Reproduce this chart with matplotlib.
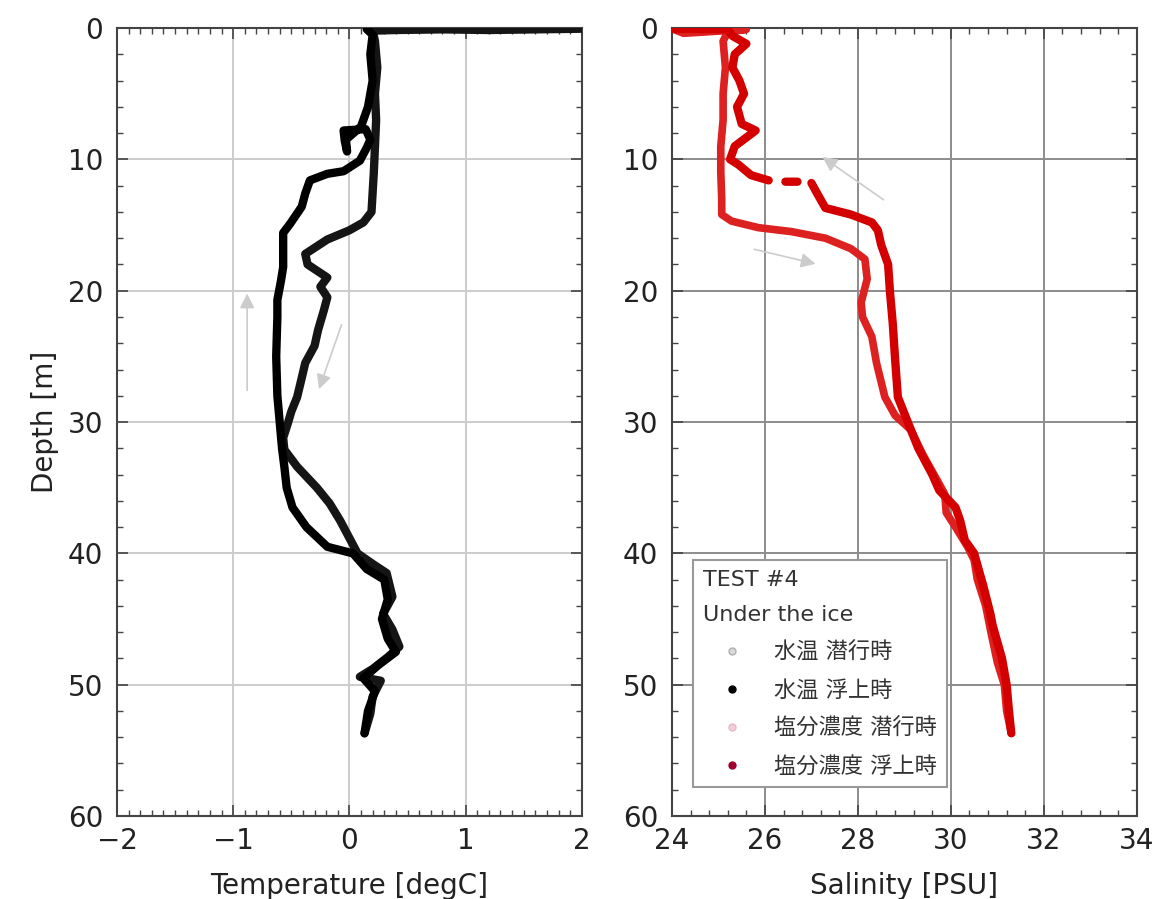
import matplotlib
matplotlib.use("Agg")
import matplotlib.pyplot as plt
from matplotlib.lines import Line2D
from matplotlib.ticker import MultipleLocator
import numpy as np

plt.rcParams["font.family"] = ["DejaVu Sans", "Noto Sans CJK JP"]

# temperature, descent (潜行時): depth [m], temperature [degC]
temp_down_depth = [0.05, 0.1, 0.15, 0.1, 0.15, 0.2, 1, 3, 5, 7, 9, 11, 12.5, 14.0,
                   14.8, 15.4, 16.1, 17.2, 18.0, 19.0, 19.7, 20.5, 21.5, 23, 24.2,
                   25.5, 27, 28.1, 29.2, 30.1, 31.2, 32.1, 33.4, 35, 36.2, 37.5,
                   38.5, 40, 40.8, 41.5, 43.3, 44.6, 45.8, 47.1, 47.9, 48.8, 49.4,
                   49.7, 50.9, 52.2, 53.7]
temp_down_val = [2.0, 1.6, 1.2, 0.8, 0.4, 0.2, 0.22, 0.24, 0.22, 0.23, 0.22, 0.21,
                 0.2, 0.19, 0.12, 0.0, -0.19, -0.38, -0.36, -0.19, -0.25, -0.19,
                 -0.22, -0.27, -0.3, -0.38, -0.42, -0.45, -0.5, -0.53, -0.57,
                 -0.56, -0.45, -0.28, -0.17, -0.08, -0.02, 0.07, 0.2, 0.32, 0.37,
                 0.29, 0.37, 0.43, 0.33, 0.2, 0.09, 0.27, 0.2, 0.18, 0.13]

# temperature, ascent (浮上時)
temp_up_depth = [53.7, 52, 50.5, 49.5, 48.5, 47.5, 46.5, 45, 43.5, 42, 41.2, 40,
                 39.5, 38, 36.5, 35, 33.4, 32, 30, 28, 25, 22, 20.7, 19.3, 18.2,
                 15.6, 14.9, 13.6, 12.6, 11.6, 11.1, 10.9, 10.1, 9.1, 8.5, 7.7,
                 7.8, 8.6, 9.4, 8.5, 7.5, 6, 4, 2, 0.5, 0.1]
temp_up_val = [0.13, 0.16, 0.22, 0.12, 0.25, 0.4, 0.33, 0.28, 0.33, 0.3, 0.15,
               0.03, -0.19, -0.37, -0.49, -0.54, -0.56, -0.58, -0.6, -0.62,
               -0.63, -0.62, -0.62, -0.59, -0.57, -0.57, -0.51, -0.41, -0.38,
               -0.34, -0.19, -0.05, 0.09, 0.15, 0.18, 0.14, -0.05, -0.04, -0.02,
               -0.03, 0.1, 0.16, 0.2, 0.18, 0.2, 0.15]

# salinity, descent (潜行時): depth [m], salinity [PSU]
sal_down_depth = [0.05, 0.4, 0.1, 0.3, 1, 3, 5, 7, 9, 11, 13, 14.2, 14.7, 15.2,
                  15.5, 16.0, 16.8, 17.6, 19.1, 20.9, 22, 23.5, 25.5, 28.1, 29.5,
                  30.6, 32.5, 34.4, 35.5, 36.9, 38, 39.5, 40.5, 42, 44, 45.8,
                  48.3, 50, 52, 53.7]
sal_down_val = [24.0, 24.25, 25.6, 25.2, 25.1, 25.15, 25.1, 25.1, 25.05, 25.05,
                25.07, 25.07, 25.28, 25.86, 26.57, 27.3, 27.85, 28.15, 28.2,
                28.07, 28.1, 28.3, 28.4, 28.58, 28.8, 29.14, 29.4, 29.7, 29.87,
                29.9, 30.1, 30.36, 30.5, 30.57, 30.75, 30.85, 31.0, 31.15, 31.2,
                31.3]

# salinity, ascent (浮上時); nan marks gaps in the record
sal_up_depth = [53.7, 52, 50, 48, 45.5, 44.6, 42.5, 40, 39, 37.5, 36.5, 35.2, 34,
                32, 30.6, 28.1, 25.2, 22.5, 20.1, 18, 16.5, 15.4, 14.8, 14.2,
                13.7, 12.7, 11.8, np.nan, 11.7, 11.7, np.nan, 11.6, 11.2, 10.4,
                10, 9, 7.8, 7.3, 6, 5, 4, 3, 2, 1.2, 0.6, 0.1, 0.05]
sal_up_val = [31.3, 31.25, 31.2, 31.1, 30.9, 30.85, 30.7, 30.5, 30.3, 30.2, 30.1,
              29.75, 29.6, 29.3, 29.14, 28.86, 28.8, 28.75, 28.69, 28.65, 28.5,
              28.43, 28.3, 27.85, 27.3, 27.14, 27.0, np.nan, 26.7, 26.44, np.nan,
              26.08, 25.7, 25.43, 25.25, 25.35, 25.8, 25.5, 25.4, 25.55, 25.45,
              25.3, 25.35, 25.6, 25.3, 25.2, 24.0]

# direction arrows: (x_start, depth_start, x_end, depth_end)
temp_arrows = [(-0.88, 27.8, -0.88, 20.0), (-0.06, 22.4, -0.27, 27.7)]
sal_arrows = [(28.6, 13.2, 27.19, 9.7), (25.71, 16.8, 27.15, 18.0)]

legend_labels = ["水温 潜行時", "水温 浮上時", "塩分濃度 潜行時", "塩分濃度 浮上時"]

fig = plt.figure(figsize=(11.62, 8.99), dpi=100)
ax_t = fig.add_axes([0.1007, 0.0923, 0.400, 0.8765])
ax_s = fig.add_axes([0.5783, 0.0923, 0.400, 0.8765])


def style_axis(ax, grid_color):
    ax.set_ylim(60, 0)
    ax.yaxis.set_major_locator(MultipleLocator(10))
    ax.yaxis.set_minor_locator(MultipleLocator(2))
    ax.grid(True, which="major", color=grid_color, linewidth=1.4, zorder=0)
    ax.set_axisbelow(True)
    ax.tick_params(which="both", direction="in", top=True, right=True,
                   labelsize=20, color="#444444", labelcolor="#222222")
    ax.tick_params(axis="x", which="both", pad=8)
    ax.tick_params(axis="y", which="both", pad=10)
    ax.tick_params(which="major", length=8, width=1.2)
    ax.tick_params(which="minor", length=4, width=1.0)
    for sp in ax.spines.values():
        sp.set_color("#444444")
        sp.set_linewidth(1.5)


style_axis(ax_t, "#cccccc")
ax_t.set_xlim(-2, 2)
ax_t.xaxis.set_major_locator(MultipleLocator(1))
ax_t.xaxis.set_minor_locator(MultipleLocator(0.1))
ax_t.plot(temp_down_val, temp_down_depth, color="#151515", lw=6,
          solid_joinstyle="round", solid_capstyle="round", zorder=3)
ax_t.plot(temp_up_val, temp_up_depth, color="#000000", lw=6,
          solid_joinstyle="round", solid_capstyle="round", zorder=3)
ax_t.set_xlabel("Temperature [degC]", fontsize=20, labelpad=12, color="#222222")
ax_t.set_ylabel("Depth [m]", fontsize=20, labelpad=6, color="#222222")
for x0, y0, x1, y1 in temp_arrows:
    ax_t.annotate("", xy=(x1, y1), xytext=(x0, y0),
                  arrowprops=dict(arrowstyle="-|>", color="#cccccc", lw=1.2,
                                  mutation_scale=22), zorder=2)

style_axis(ax_s, "#8c8c8c")
ax_s.set_xlim(24, 34)
ax_s.xaxis.set_major_locator(MultipleLocator(2))
ax_s.xaxis.set_minor_locator(MultipleLocator(0.4))
ax_s.plot(sal_down_val, sal_down_depth, color="#dd2020", lw=5.5,
          solid_joinstyle="round", solid_capstyle="round", zorder=3)
ax_s.plot(sal_up_val, sal_up_depth, color="#d40000", lw=6,
          solid_joinstyle="round", solid_capstyle="round", zorder=3)
ax_s.set_xlabel("Salinity [PSU]", fontsize=20, labelpad=12, color="#222222")
for x0, y0, x1, y1 in sal_arrows:
    ax_s.annotate("", xy=(x1, y1), xytext=(x0, y0),
                  arrowprops=dict(arrowstyle="-|>", color="#cccccc", lw=1.2,
                                  mutation_scale=22), zorder=2)

handles = [
    Line2D([], [], ls="none", marker="o", ms=5, mfc="#d8d8d8", mec="#b0b0b0"),
    Line2D([], [], ls="none", marker="o", ms=5, mfc="#000000", mec="#000000"),
    Line2D([], [], ls="none", marker="o", ms=5, mfc="#f2ccd8", mec="#e8b8c8"),
    Line2D([], [], ls="none", marker="o", ms=5, mfc="#a00030", mec="#a00030"),
]
leg = ax_s.legend(handles, legend_labels, title="TEST #4\nUnder the ice",
                  loc="lower left", bbox_to_anchor=(0.045, 0.037),
                  borderaxespad=0, fontsize=16, title_fontsize=16,
                  alignment="left", handlelength=2.6, handletextpad=0.6,
                  labelspacing=0.76, fancybox=False, framealpha=1,
                  edgecolor="#999999", numpoints=1, borderpad=0.45)
leg.get_frame().set_linewidth(1.5)
leg.get_title().set_color("#333333")
leg.get_title().set_linespacing(1.95)
for t in leg.get_texts():
    t.set_color("#333333")

fig.savefig("out.png", dpi=100)
